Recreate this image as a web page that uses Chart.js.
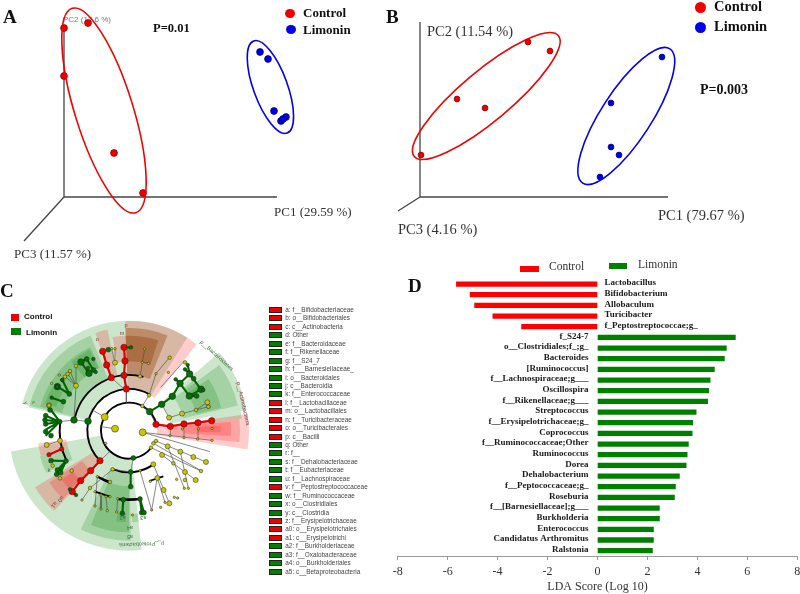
<!DOCTYPE html>
<html>
<head>
<meta charset="utf-8">
<title>Limonin</title>
<script src="https://cdn.jsdelivr.net/npm/chart.js@4/dist/chart.umd.js"></script>
<style>
html, body { margin: 0; padding: 0; background: #fff; }
#page { position: relative; width: 800px; height: 594px; overflow: hidden; filter: blur(0.35px); }
#page canvas { position: absolute; }
.t { position: absolute; white-space: nowrap; line-height: 1; transform: translateY(-50%); font-family: "Liberation Serif", serif; color: #333; }
.b { font-weight: bold; color: #111; }
.s { font-family: "Liberation Sans", sans-serif; }
.g { color: #777; }
.box { position: absolute; }
</style>
</head>
<body>
<div id="page"></div>
<script>
// panel A, B: PCoA scores
const controlA = [[0.00, 1.69], [0.24, 1.74], [0.00, 1.21], [0.50, 0.44], [0.79, 0.04]];
const limoninA = [[1.96, 1.45], [2.04, 1.38], [2.10, 0.86], [2.17, 0.76], [2.22, 0.80], [2.19, 0.78]];
const controlB = [[1.08, 1.55], [1.30, 1.46], [0.37, 0.98], [0.65, 0.89], [0.01, 0.42]];
const limoninB = [[2.42, 1.40], [1.91, 0.94], [1.91, 0.50], [1.99, 0.42], [1.80, 0.20]];

// panel D
const ldaNames = ['Lactobacillus', 'Bifidobacterium', 'Allobaculum', 'Turicibacter', 'f_Peptostreptococcae;g_',
    'f_S24-7', 'o__Clostridiales;f_;g_', 'Bacteroides', '[Ruminococcus]', 'f__Lachnospiraceae;g___', 'Oscillospira',
    'f__Rikenellaceae;g___', 'Streptococcus', 'f__Erysipelotrichaceae;g_', 'Coprococcus', 'f__Ruminococcaceae;Other',
    'Ruminococcus', 'Dorea', 'Dehalobacterium', 'f__Peptococcaceae;g_', 'Roseburia', 'f__[Barnesiellaceae];g___',
    'Burkholderia', 'Enterococcus', 'Candidatus Arthromitus', 'Ralstonia'];
const ldaScores = [-5.65, -5.10, -4.92, -4.19, -3.04, 5.52, 5.16, 5.08, 4.68, 4.51, 4.45, 4.41, 3.95, 3.81, 3.79, 3.64,
    3.59, 3.55, 3.28, 3.12, 3.08, 2.48, 2.48, 2.24, 2.24, 2.20];
const ldaTicks = [-8, -6, -4, -2, 0, 2, 4, 6, 8];

// panel C legend
const cladeNames = ['a: f__Bifidobacteriaceae', 'b: o__Bifidobacteriales', 'c: c__Actinobacteria', 'd: Other',
    'e: f__Bacteroidaceae', 'f: f__Rikenellaceae', 'g: f__S24_7', 'h: f___Barnesiellaceae_', 'i: o__Bacteroidales',
    'j: c__Bacteroidia', 'k: f__Enterococcaceae', 'l: f__Lactobacillaceae', 'm: o__Lactobacillales',
    'n: f__Turicibacteraceae', 'o: o__Turicibacterales', 'p: c__Bacilli', 'q: Other', 'r: f__', 's: f__Dehalobacteriaceae',
    't: f__Eubacteriaceae', 'u: f__Lachnospiraceae', 'v: f__Peptostreptococcaceae', 'w: f__Ruminococcaceae',
    'x: o__Clostridiales', 'y: c__Clostridia', 'z: f__Erysipelotrichaceae', 'a0: o__Erysipelotrichales',
    'a1: c__Erysipelotrichi', 'a2: f__Burkholderiaceae', 'a3: f__Oxalobacteraceae', 'a4: o__Burkholderiales',
    'a5: c__Betaproteobacteria'];
const cladeGroups = ['C', 'C', 'C', 'L', 'L', 'L', 'L', 'L', 'L', 'L', 'L', 'C', 'C', 'C', 'C', 'C', 'L', 'L', 'L', 'L', 'L',
    'C', 'L', 'L', 'L', 'C', 'C', 'C', 'L', 'L', 'L', 'L'];

// panel C nodes, as offsets from the root
const redBig = [[81, 19], [124, 13], [165, 20], [207, 24], [248, 30], [-8, 125], [-15, 166], [-53, 159], [-12, 209],
    [-15, 250], [-67, 197], [-79, 238], [-87, -90], [-115, -120], [-145, -150], [-170, -183]];
const redSmall = [[-202, -55], [-240, -72]];
const greenBig = [[-165, 32], [-123, 28], [62, 57], [98, 79], [130, 103], [153, 142], [181, 104], [182, 170], [216, 124],
    [-120, 172], [-144, 206], [-215, 132]];
const greenMid = [[-208, 27], [13, -82], [5, -124], [5, -168], [-17, -207], [33, -205], [-127, 215], [-107, 182], [-215, 132],
    [-179, 110], [-197, 87], [-62, 243], [-189, -91], [-234, -90], [-215, -118], [-217, -131], [-205, -126], [-234, -15],
    [-250, -3], [-250, 20], [-252, 32], [-250, 45], [-237, 62], [-20, -248], [38, -246], [45, -246], [194, 156], [203, 104]];
const greenSmall = [[140, 154], [168, 184], [176, 197], [223, 122], [-107, 215], [-200, 152], [-215, 132], [-232, 99],
    [6, 250], [-177, -176], [-159, -193], [-200, 152], [-123, 188], [-100, 176]];
const yellowBig = [[-42, 6], [-73, 41], [41, -5]];
const yellowMid = [[-207, -30], [-247, -43], [-159, 135], [-42, 204], [120, 39], [159, 51], [235, 85], [116, -47], [154, -63],
    [193, -79], [231, -94], [99, -73], [168, -124], [200, -148], [73, -101], [85, -142], [104, -178], [121, -218], [-240, 76]];
const yellowSmall = [[-229, -105], [-172, -120], [-207, -143], [-159, 194], [-177, 179], [-184, 170], [-192, 162], [40, 74],
    [81, -31], [73, -38], [66, -51], [168, 205], [201, 62], [238, 72], [133, -98], [216, -121], [-49, -116], [-57, -154],
    [-117, -172], [168, -148], [122, 219], [-240, 76], [33, 163], [60, 106], [238, 72]];
const yellowTiny = [[-52, 246], [-42, 246], [47, 245], [40, 205], [58, 202], [33, -120], [-95, -138], [123, -15], [165, -21],
    [206, -25], [249, -29], [160, 5], [208, 5], [249, 7], [64, -152], [143, -146], [166, -173], [178, -173], [108, -215], [95, -230],
    [136, -200], [146, -202], [68, -238], [-141, -208], [-102, -183], [-84, -193], [-69, -198], [-57, -198], [-102, -226],
    [-84, -235], [-65, -240], [-34, -204], [-37, -244], [10, -253], [-209, 167], [-232, 142], [-70, -38], [81, 171], [118, 175]];

// panel C links, each a run of x, y pairs
const redLinks = [[81, 19, 124, 13, 165, 20, 207, 24, 248, 30], [-8, 125, -15, 166, -12, 209, -15, 250], [-53, 159, -67, 197, -79, 238],
    [-87, -90, -115, -120, -145, -150, -170, -183], [-202, -55, -240, -72]];
const greenLinks = [[62, 57, 98, 79, 130, 103, 153, 142], [153, 142, 140, 154], [153, 142, 182, 170], [182, 170, 168, 184], [182, 170, 176, 197],
    [181, 104, 216, 124], [181, 104, 203, 104], [216, 124, 223, 122], [153, 142, 181, 104], [182, 170, 216, 124], [-120, 172, -144, 206],
    [-120, 172, -107, 182], [-127, 215, -107, 182], [-144, 206, -127, 215], [-179, 110, -215, 132], [-197, 87, -232, 99], [-179, 110, -200, 152],
    [-208, 27, -234, 62], [-208, 27, -250, 45], [-208, 27, -252, 32], [-208, 27, -250, 20], [-208, 27, -250, 3], [-208, 27, -250, -15],
    [-189, -91, -234, -90], [-189, -91, -215, -118], [-189, -91, -217, -131], [-189, -91, -205, -126], [5, -124, 5, -168], [-17, -207, -20, -248],
    [33, -205, 38, -246], [33, -205, 45, -246], [-170, -183, -177, -176], [-170, -183, -159, -193], [-15, 250, 6, 250]];
const blackLinks = [[-95, -138, -57, -154], [61, -151, 103, -137], [-102, -183, -57, -198], [-32, -206, 33, -205]];
const thinLinks = [[41, -5, 249, -29], [41, -5, 243, -63], [81, -31, 231, -94], [73, -38, 218, -121], [66, -51, 216, -121], [99, -73, 200, -148],
    [73, -101, 121, -218], [85, -142, 108, -215], [85, -142, 68, -238], [154, -63, 178, -173], [116, -47, 166, -173], [-42, 6, -84, 12],
    [-73, 41, -107, 60], [-165, 32, -123, 28], [-208, 27, -165, 32], [-8, 125, -8, 84], [-15, 166, -8, 125], [-53, 159, -15, 125], [62, 57, 40, 74],
    [40, 74, 60, 106], [62, 57, 81, 19], [98, 79, 120, 39], [120, 39, 159, 51], [159, 51, 201, 62], [201, 62, 235, 85], [201, 62, 238, 72],
    [33, 163, 47, 245], [81, 171, 121, 219], [95, 130, 165, 208], [40, 205, 58, 202], [-159, 135, -177, 179], [-159, 135, -192, 162], [-159, 135, -184, 170],
    [-159, 135, -159, 194], [-159, 135, -165, 32], [-87, -90, -57, -62], [13, -82, 5, -124], [5, -124, -49, -116], [-49, -116, -117, -172],
    [-117, -172, -141, -208], [-95, -138, -102, -226], [-84, -193, -84, -235], [-69, -198, -65, -240], [-34, -204, -37, -244], [33, -120, 68, -238],
    [81, 171, 60, 106], [-42, 204, -52, 246], [-42, 204, -42, 246], [-207, -30, -247, -43], [123, -15, 124, 13], [165, -21, 165, 20], [206, -25, 207, 24]];

// thick arcs: radius, from, to (degrees, counter clockwise from east)
const cladeArcs = [[84, 13, 323], [125, 60, 226], [125, 248, 306], [167, 75, 170], [208, 172, 206], [208, 261, 279], [167, 235, 250]];
// shaded clades: group, from, to, inner, outer
const cladeWedges = [
    ['L', 92, 166, 125, 330], ['L', 58, 92, 125, 330], ['C', 52, 92, 125, 329], ['L', 68, 92, 167, 308], ['C', 68, 92, 167, 308],
    ['L', 72, 92, 208, 285], ['C', 72, 92, 208, 285], ['L', 112, 167, 167, 308], ['L', 115, 165, 208, 276], ['L', 150, 162, 230, 265],
    ['L', 116, 130, 208, 270], ['C', 102, 109, 167, 310], ['C', 92, 100, 208, 285], ['L', 10, 41, 125, 358], ['L', 13, 36, 167, 335], ['L', 14, 33, 208, 285],
    ['L', 30, 38, 208, 250], ['C', -9, 8, 84, 360], ['C', -6, 6, 125, 333], ['C', -3, 5, 167, 306], ['C', -1, 3, 208, 275], ['L', 6, 10, 250, 340],
    ['L', 190, 276, 88, 360], ['L', 244, 271, 125, 330], ['L', 248, 270, 167, 305], ['L', 262, 268, 250, 275], ['L', 272, 276, 250, 275],
    ['C', 211, 227, 125, 329], ['C', 213, 226, 167, 285], ['C', 216, 225, 208, 250], ['C', 188, 196, 190, 275], ['L', 196, 207, 190, 278]
];
// rotated clade names: text, x, y, angle, colour
const cladeTags = [['p__Bacteroidetes', 263, 225, 42, '#3d6b3d'], ['p__Actinobacteria', 342, 81, 77, '#7a3b3b'], ['p__Proteobacteria', 38, -340, 178, '#3d6b3d'],
    ['p', -9, 317, 0, '#7a3b3b'], ['m', -21, 292, 0, '#7a3b3b'], ['o', -95, 275, 0, '#7a3b3b'], ['x', -287, 85, 70, '#3d6b3d'], ['y', -310, 83, 70, '#3d6b3d'],
    ['a5', 3, -318, 180, '#3d6b3d'], ['a4', 3, -290, 180, '#3d6b3d'], ['a3', 43, -260, 180, '#3d6b3d'], ['a2', -19, -260, 180, '#3d6b3d'],
    ['a1', -225, -222, 130, '#7a3b3b'], ['a0', -205, -205, 130, '#7a3b3b'], ['k', -240, -118, 0, '#3d6b3d']];

// text, x, y, size, classes
const pageLabels = [
    ['A', 3, 16, 19, 'b'], ['B', 386, 16, 19, 'b'], ['C', 0, 290, 19, 'b'], ['D', 408, 285, 19, 'b'],
    ['PC2 (12.6 %)', 63, 20, 8, 's g'], ['P=0.01', 153, 28, 12.5, 'b'], ['Control', 303, 12, 13, 'b'], ['Limonin', 303, 29, 13, 'b'],
    ['PC1 (29.59 %)', 274, 211, 13, ''], ['PC3 (11.57 %)', 14, 253, 13, ''],
    ['PC2 (11.54 %)', 427, 31, 14.5, ''], ['P=0.003', 700, 90, 14, 'b'], ['Control', 714, 6, 14.5, 'b'], ['Limonin', 714, 26, 14.5, 'b'],
    ['PC1 (79.67 %)', 658, 215, 14.5, ''], ['PC3 (4.16 %)', 398, 229, 14.5, ''],
    ['Control', 549, 267, 11.5, ''], ['Limonin', 638, 265, 11.5, ''],
    ['Control', 24, 317, 8, 's b'], ['Limonin', 26, 333, 8, 's b']
];

const RED = '#ee0000';
const BLUE = '#0000e6';
const GREEN = '#007f00';
const page = document.getElementById('page');

pageLabels.forEach(([text, x, y, size, cls]) => {
    const el = document.createElement('div');
    el.className = 't ' + cls;
    el.textContent = text;
    el.style.left = x + 'px';
    el.style.top = y + 'px';
    el.style.fontSize = size + 'px';
    page.appendChild(el);
});

function addBox(x, y, w, h, color, round, border) {
    const el = document.createElement('div');
    el.className = 'box';
    el.style.cssText = `left:${x}px;top:${y}px;width:${w}px;height:${h}px;background:${color};`
        + (round ? 'border-radius:50%;' : '') + (border ? `outline:0.8px solid ${border};` : '');
    page.appendChild(el);
}
addBox(285, 9, 10, 9, RED, true);
addBox(286, 25, 10, 9, BLUE, true);
addBox(695, 2, 11, 11, RED, true);
addBox(695, 22, 11, 11, BLUE, true);
addBox(520, 266, 19, 6, '#ff0000');
addBox(609, 263, 18, 6, GREEN);
addBox(11, 314, 8, 7, RED);
addBox(11, 328, 10, 7, GREEN);

cladeNames.forEach((name, i) => {
    const y = 310 + i * 8.44;
    addBox(269.5, y - 2, 11.5, 4, cladeGroups[i] === 'C' ? RED : GREEN, false, '#222');
    const el = document.createElement('div');
    el.className = 't s';
    el.textContent = name;
    el.style.cssText += `left:285.3px;top:${y}px;font-size:6.4px;color:#444;`;
    page.appendChild(el);
});

function addCanvas(x, y, w, h) {
    const c = document.createElement('canvas');
    c.width = w;
    c.height = h;
    c.style.cssText = `left:${x}px;top:${y}px;width:${w}px;height:${h}px;`;
    page.appendChild(c);
    return c;
}

const toXY = list => list.map(p => ({ x: p[0], y: p[1] }));

function pcoaPlugin(rings) {
    return {
        id: 'rings',
        afterDatasetsDraw(chart) {
            const { ctx, scales: { x, y } } = chart;
            rings.forEach(([cx, cy, a, b, rot, color]) => {
                ctx.save();
                ctx.strokeStyle = color;
                ctx.lineWidth = 1.6;
                ctx.beginPath();
                ctx.ellipse(x.getPixelForValue(cx), y.getPixelForValue(cy),
                    x.getPixelForValue(a) - x.getPixelForValue(0), x.getPixelForValue(b) - x.getPixelForValue(0),
                    rot * Math.PI / 180, 0, Math.PI * 2);
                ctx.stroke();
                ctx.restore();
            });
        }
    };
}

function pcoaChart(canvas, control, limonin, axisEnds, range, rings, dotSize) {
    const axisLine = end => ({
        data: [{ x: 0, y: 0 }, { x: end[0], y: end[1] }],
        borderColor: '#444', borderWidth: 1.3, pointRadius: 0, showLine: true, order: 5
    });
    return new Chart(canvas, {
        type: 'scatter',
        data: {
            datasets: [
                axisLine(axisEnds[0]), axisLine(axisEnds[1]), axisLine(axisEnds[2]),
                { data: toXY(control), backgroundColor: RED, borderColor: '#8a0000', borderWidth: 0.8, pointRadius: dotSize, order: 1 },
                { data: toXY(limonin), backgroundColor: BLUE, borderColor: '#00007a', borderWidth: 0.8, pointRadius: dotSize, order: 1 }
            ]
        },
        options: {
            responsive: false,
            animation: false,
            layout: { padding: 0, autoPadding: false },
            plugins: { legend: { display: false }, tooltip: { enabled: false } },
            scales: {
                x: { type: 'linear', display: false, min: range[0], max: range[1] },
                y: { type: 'linear', display: false, min: range[2], max: range[3] }
            }
        },
        plugins: [pcoaPlugin(rings)]
    });
}

pcoaChart(addCanvas(0, 0, 400, 270), controlA, limoninA, [[2.13, 0], [0, 1.70], [-0.40, -0.44]], [-0.64, 3.36, -0.73, 1.97],
    [[0.40, 0.865, 1.07, 0.29, 72.7, '#f00000'], [2.064, 1.10, 0.49, 0.17, 70, '#0000f0']], 3.4);
pcoaChart(addCanvas(385, 0, 415, 270), controlB, limoninB, [[2.48, 0], [0, 1.75], [-0.22, -0.14]], [-0.35, 3.80, -0.73, 1.97],
    [[0.663, 1.01, 0.94, 0.25, -40, '#f00000'], [2.063, 0.81, 0.80, 0.25, -57, '#0000f0']], 2.9);

// LDA bars
const ldaLabels = {
    id: 'ldaLabels',
    afterDatasetsDraw(chart) {
        const { ctx, scales: { x, y } } = chart;
        ctx.save();
        ctx.font = 'bold 9px "Liberation Serif"';
        ctx.fillStyle = '#1a1a1a';
        ctx.textBaseline = 'middle';
        ldaNames.forEach((name, i) => {
            const left = ldaScores[i] < 0;
            ctx.textAlign = left ? 'left' : 'right';
            ctx.fillText(name, x.getPixelForValue(0) + (left ? 7 : -9), y.getPixelForValue(i) - 1);
        });
        ctx.restore();
    }
};

new Chart(addCanvas(385, 260, 430, 334), {
    type: 'bar',
    data: {
        labels: ldaNames,
        datasets: [{
            data: ldaScores,
            backgroundColor: c => (c.raw < 0 ? '#ff0000' : GREEN),
            barThickness: 4.6
        }]
    },
    options: {
        indexAxis: 'y',
        responsive: false,
        animation: false,
        layout: { padding: { left: 12.7, right: 17.7, top: 18.7, bottom: 0 } },
        plugins: { legend: { display: false }, tooltip: { enabled: false } },
        scales: {
            x: {
                type: 'linear',
                min: -8,
                max: 8,
                afterBuildTicks: s => { s.ticks = ldaTicks.map(v => ({ value: v })); },
                afterFit: s => { s.height = 38; },
                grid: { drawOnChartArea: false, drawTicks: true, tickLength: 4, color: '#999' },
                border: { color: '#999' },
                ticks: { color: '#333', font: { family: 'Liberation Serif', size: 12 }, padding: 5, maxRotation: 0, autoSkip: false },
                title: { display: true, text: 'LDA Score (Log 10)', color: '#333', font: { family: 'Liberation Serif', size: 12 }, padding: { top: 2, bottom: 0 } }
            },
            y: { type: 'category', display: false }
        }
    },
    plugins: [ldaLabels]
});

// cladogram
const linkPoints = runs => {
    const out = [];
    runs.forEach(run => {
        for (let i = 0; i < run.length; i += 2) out.push({ x: run[i], y: run[i + 1] });
        out.push({ x: NaN, y: NaN });
    });
    return out;
};
const linkSet = (runs, color, width, order) => ({
    data: linkPoints(runs), borderColor: color, borderWidth: width, showLine: true, spanGaps: false, pointRadius: 0, order: order
});
const nodeSet = (list, color, r) => ({
    data: toXY(list), backgroundColor: color, borderColor: '#222', borderWidth: 0.5, pointRadius: r, order: 1
});

const cladeShapes = {
    id: 'cladeShapes',
    beforeDatasetsDraw(chart) {
        const { ctx, scales: { x, y } } = chart;
        const cx = x.getPixelForValue(0);
        const cy = y.getPixelForValue(0);
        const px = r => x.getPixelForValue(r) - cx;
        const rad = d => -d * Math.PI / 180;
        ctx.save();
        cladeWedges.forEach(([group, from, to, inner, outer]) => {
            ctx.fillStyle = group === 'C' ? 'rgba(255,0,0,0.2)' : 'rgba(0,128,0,0.2)';
            ctx.beginPath();
            ctx.arc(cx, cy, px(outer), rad(from), rad(to), true);
            ctx.arc(cx, cy, px(inner), rad(to), rad(from), false);
            ctx.closePath();
            ctx.fill();
        });
        ctx.strokeStyle = '#000';
        ctx.lineWidth = 1.9;
        cladeArcs.forEach(([r, from, to]) => {
            ctx.beginPath();
            ctx.arc(cx, cy, px(r), rad(from), rad(to), true);
            ctx.stroke();
        });
        ctx.font = '5.5px "Liberation Sans"';
        ctx.textAlign = 'center';
        ctx.textBaseline = 'middle';
        cladeTags.forEach(([text, tx, ty, angle, color]) => {
            ctx.save();
            ctx.translate(x.getPixelForValue(tx), y.getPixelForValue(ty));
            ctx.rotate(angle * Math.PI / 180);
            ctx.fillStyle = color;
            ctx.fillText(text, 0, 0);
            ctx.restore();
        });
        ctx.restore();
    }
};

new Chart(addCanvas(0, 270, 265, 324), {
    type: 'scatter',
    data: {
        datasets: [
            linkSet(thinLinks, '#555', 0.7, 9),
            linkSet(blackLinks, '#000', 1.8, 8),
            linkSet(greenLinks, '#006400', 2.1, 7),
            linkSet(redLinks, '#e00000', 2.2, 7),
            nodeSet(yellowTiny, '#c8c800', 1.2),
            nodeSet(yellowSmall, '#c8c800', 1.8),
            nodeSet(yellowMid, '#c8c800', 2.5),
            nodeSet(yellowBig, '#c8c800', 3.5),
            nodeSet(greenSmall, '#007000', 1.8),
            nodeSet(greenMid, '#007000', 2.4),
            nodeSet(greenBig, '#007000', 3.3),
            nodeSet(redSmall, '#ee0000', 2.2),
            nodeSet(redBig, '#ee0000', 3.2)
        ]
    },
    options: {
        responsive: false,
        animation: false,
        layout: { padding: 0, autoPadding: false },
        plugins: { legend: { display: false }, tooltip: { enabled: false } },
        scales: {
            x: { type: 'linear', display: false, min: -387, max: 408 },
            y: { type: 'linear', display: false, min: -490, max: 482 }
        }
    },
    plugins: [cladeShapes]
});
</script>
</body>
</html>
